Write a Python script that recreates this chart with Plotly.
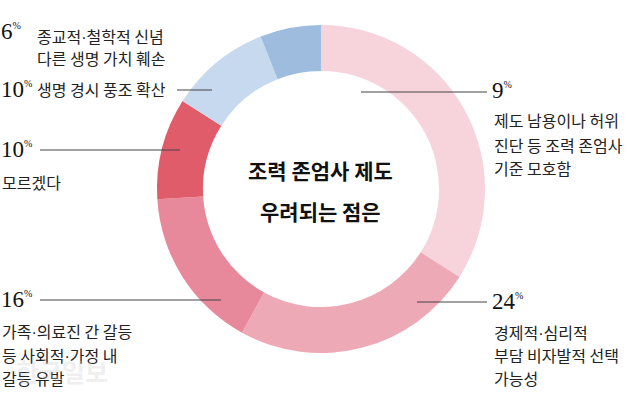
import plotly.graph_objects as go

# ---- data ----
categories = [
    "제도 남용이나 허위 진단 등 조력 존엄사 기준 모호함",
    "경제적·심리적 부담 비자발적 선택 가능성",
    "가족·의료진 간 갈등 등 사회적·가정 내 갈등 유발",
    "모르겠다",
    "생명 경시 풍조 확산",
    "종교적·철학적 신념 다른 생명 가치 훼손",
]
values = [34, 24, 16, 10, 10, 6]
value_labels = ["9", "24", "16", "10", "10", "6"]
colors = ["#F7D4DC", "#EEA9B6", "#E7899A", "#E05C6B", "#C6D9EE", "#9EBDDE"]

W, H = 640, 397

def px(x):
    return x / W

def py(y):
    return 1 - y / H

fig = go.Figure(go.Pie(
    labels=categories,
    values=values,
    sort=False,
    direction="clockwise",
    rotation=0,
    hole=0.72,
    marker=dict(colors=colors, line=dict(width=0)),
    textinfo="none",
    hoverinfo="label+value",
    domain=dict(x=[px(157), px(485)], y=[py(353), py(25)]),
    showlegend=False,
))

num_font = dict(family="Liberation Serif, DejaVu Serif, serif", size=23, color="#111")
txt_font = dict(family="Noto Sans CJK KR, sans-serif", size=16, color="#222")
center_font = dict(family="Noto Sans CJK KR, sans-serif", size=21, color="#111")

DOT = "<span style='font-family:Liberation Sans'>·</span>"

annotations = []

def num(x, y, s):
    annotations.append(dict(x=px(x), y=py(y), xref="paper", yref="paper",
                            text=f"{s}<sup><span style='font-size:10px'>%</span></sup>",
                            showarrow=False, xanchor="left", yanchor="middle",
                            font=num_font))

def txt(x, y, s, anchor="left"):
    annotations.append(dict(x=px(x), y=py(y), xref="paper", yref="paper",
                            text=s.replace("·", DOT), showarrow=False,
                            xanchor=anchor, yanchor="middle", font=txt_font))

# left side labels
num(-1, 32, value_labels[5])
txt(35, 36, "종교적·철학적 신념")
txt(35, 58, "다른 생명 가치 훼손")
num(-1, 89, value_labels[4])
txt(35, 89, "생명 경시 풍조 확산")
num(-1, 149, value_labels[3])
txt(0, 182, "모르겠다")
num(-1, 299, value_labels[2])
txt(0, 331, "가족·의료진 간 갈등")
txt(0, 355, "등 사회적·가정 내")
txt(0, 378, "갈등 유발")

# right side labels
num(490, 90, value_labels[0])
txt(492, 120, "제도 남용이나 허위")
txt(492, 145, "진단 등 조력 존엄사")
txt(492, 168, "기준 모호함")
num(490, 301, value_labels[1])
txt(492, 332, "경제적·심리적")
txt(492, 355, "부담 비자발적 선택")
txt(492, 378, "가능성")

# center title
annotations.append(dict(x=px(320), y=py(170), xref="paper", yref="paper",
                        text="<b>조력 존엄사 제도</b>", showarrow=False,
                        xanchor="center", yanchor="middle", font=center_font))
annotations.append(dict(x=px(320), y=py(211), xref="paper", yref="paper",
                        text="<b>우려되는 점은</b>", showarrow=False,
                        xanchor="center", yanchor="middle", font=center_font))

# faint watermark
annotations.append(dict(x=px(62), y=py(371), xref="paper", yref="paper",
                        text="<b>한국일보</b>", showarrow=False,
                        xanchor="center", yanchor="middle",
                        font=dict(family="Noto Sans CJK KR, sans-serif", size=25,
                                  color="rgba(200,200,200,0.3)")))

# leader lines
leaders = [
    (177, 212, 90),
    (40, 180, 150),
    (40, 221, 300),
    (361, 487, 92),
    (417, 487, 302),
]
shapes = [dict(type="line", xref="paper", yref="paper",
               x0=px(a), x1=px(b), y0=py(y), y1=py(y),
               line=dict(color="#444", width=1.2)) for a, b, y in leaders]

fig.update_layout(
    width=W, height=H,
    margin=dict(l=0, r=0, t=0, b=0),
    paper_bgcolor="white", plot_bgcolor="white",
    annotations=annotations,
    shapes=shapes,
)

fig.write_html("out.html",
               config={"displayModeBar": False},
               post_script="document.body.style.margin='0';document.body.style.overflow='hidden';")
